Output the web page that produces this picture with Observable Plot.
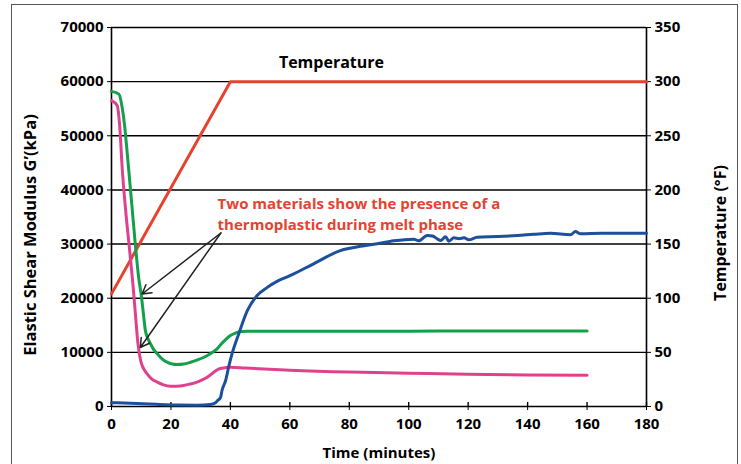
<!DOCTYPE html>
<html><head><meta charset="utf-8">
<script src="https://cdn.jsdelivr.net/npm/d3@7"></script>
<script src="https://cdn.jsdelivr.net/npm/@observablehq/plot@0.6"></script>
<style>
body{margin:0;background:#fff;}
#wrap{position:relative;width:741px;height:464px;overflow:hidden;background:#fff;}
#border{position:absolute;left:11px;top:4px;width:725px;height:480px;border:1px solid #555;pointer-events:none;}
</style></head><body><div id="wrap"><div id="border"></div></div>
<script>
// ---- data ----
const xTicks = [0, 20, 40, 60, 80, 100, 120, 140, 160, 180];
const gTicks = [0, 10000, 20000, 30000, 40000, 50000, 60000, 70000];
const tempTicks = [0, 50, 100, 150, 200, 250, 300, 350];

const tempTime = [0, 40, 180];
const tempF = [104, 300, 300];

const greenTime = [0,2.5,3.5,4.4,5.5,6.8,8.1,9.1,10.1,10.8,11.4,12.2,13.1,14.2,15.4,17,18.7,20.4,22.1,24.3,26.6,28.9,31.1,32.8,34.4,35.6,36.7,38.3,40,41.7,43.4,46,60,80,100,120,140,160];
const greenG = [58200,57700,55500,51900,45500,37500,29400,24000,20200,16800,14040,12600,11580,10500,9730,8800,8180,7850,7760,7850,8180,8600,9100,9600,10160,10700,11400,12300,13110,13550,13850,13900,13900,13900,13900,13950,13950,13950];

const pinkTime = [0,1.9,2.8,3.6,4.8,6,7.3,8.2,8.9,9.8,10.8,12,13.5,15.4,17.5,19.9,22,24.3,26.5,28.8,30.5,32.2,34.4,36,37.2,40,45,60,80,100,120,140,160];
const pinkG = [56500,55600,51500,44000,36000,29400,22000,16000,11600,8500,7000,6040,5100,4500,4000,3750,3750,3880,4150,4500,4900,5400,6340,6900,7080,7260,7100,6700,6350,6150,5950,5800,5750];

const blueTime = [0,6.4,15,22,28.8,33.3,35,35.7,36.7,37.2,38.4,39.5,40.6,42.8,45.7,49,52.4,56,60.2,68,77,83,89.4,95,101.7,103.4,106.2,108,109.6,110.7,112.4,113.5,115.2,117,118.6,120.2,123,130,136.5,142,147.7,154.4,156.1,157.8,165,180];
const blueG = [700,600,400,280,250,380,700,1100,1700,3000,4800,7500,9800,13400,17700,20500,22000,23200,24200,26350,28800,29500,30050,30600,30900,30600,31600,31500,30970,30660,31350,30530,31150,31000,31150,30780,31270,31400,31580,31800,32000,31700,32300,31900,32000,32000];

const yTitle = "Elastic Shear Modulus G’(kPa)";
const y2Title = "Temperature (°F)";
const xTitle = "Time (minutes)";
const labels = [{x: 74, y: 63500, text: "Temperature"}];
const noteText = ["Two materials show the presence of a\nthermoplastic during melt phase"];
const noteX = [35.7];
const noteY = [35740];
const arrows = [
  {x1: 36.8, y1: 32050, x2: 10.3, y2: 20780},
  {x1: 36.8, y1: 32050, x2: 9.7, y2: 10900}
];

// ---- build ----
const rows = (t, v) => t.map((x, i) => ({x, y: v[i]}));
const temp = rows(tempTime, tempF);
const green = rows(greenTime, greenG);
const pink = rows(pinkTime, pinkG);
const blue = rows(blueTime, blueG);
const notes = noteText.map((text, i) => ({text, x: noteX[i], y: noteY[i]}));

const chart = Plot.plot({
  width: 741,
  height: 464,
  marginLeft: 111,
  marginRight: 95,
  marginTop: 27,
  marginBottom: 58,
  style: {fontFamily: "'Open Sans', sans-serif", fontSize: "15px", fontWeight: "bold", color: "#000", background: "transparent", overflow: "visible"},
  x: {domain: [0, 180]},
  y: {domain: [0, 70000]},
  marks: [
    Plot.ruleY(gTicks.filter(d => d > 0), {stroke: "#000", strokeWidth: 1.4}),
    Plot.axisY(gTicks, {anchor: "left", tickSize: 4, tickPadding: 4, tickFormat: d => String(d), label: null}),
    Plot.axisY(tempTicks, {anchor: "right", y: d => d * 200, tickSize: 4, tickPadding: 4, tickFormat: d => String(d), label: null}),
    Plot.axisX(xTicks, {tickSize: 4, tickPadding: 8, tickFormat: d => String(d), label: null}),
    Plot.ruleX(xTicks, {y1: 0, y2: 750, stroke: "#000", strokeWidth: 1.4}),
    Plot.ruleX([0, 180], {stroke: "#000", strokeWidth: 1.6}),
    Plot.ruleY([0], {stroke: "#000", strokeWidth: 1.6}),
    Plot.text([yTitle], {frameAnchor: "left", textAnchor: "middle", lineAnchor: "middle", rotate: -90, dx: -81, dy: 18, fontSize: 16.5, fontWeight: "bold", fill: "#000"}),
    Plot.text([y2Title], {frameAnchor: "right", textAnchor: "middle", lineAnchor: "middle", rotate: -90, dx: 74, dy: 16, fontSize: 16, fontWeight: "bold", fill: "#000"}),
    Plot.text([xTitle], {frameAnchor: "bottom", textAnchor: "middle", lineAnchor: "middle", dy: 47, fontSize: 15, fontWeight: "bold", fill: "#000"}),
    Plot.line(temp, {x: "x", y: d => d.y * 200, stroke: "#e5432f", strokeWidth: 3}),
    Plot.line(pink, {x: "x", y: "y", stroke: "#e0418c", strokeWidth: 3, curve: "monotone-x"}),
    Plot.line(green, {x: "x", y: "y", stroke: "#12a04a", strokeWidth: 3, curve: "monotone-x"}),
    Plot.line(blue, {x: "x", y: "y", stroke: "#1c4f9c", strokeWidth: 3, curve: "monotone-x"}),
    Plot.arrow(arrows, {x1: "x1", y1: "y1", x2: "x2", y2: "y2", stroke: "#222", strokeWidth: 1.5, headLength: 10}),
    Plot.text(labels, {x: "x", y: "y", text: "text", fontSize: 16, fontWeight: "bold", fill: "#000"}),
    Plot.text(notes, {x: "x", y: "y", text: "text", textAnchor: "start", fontSize: 15, lineHeight: 1.4, fontWeight: "bold", fill: "#e5432f"})
  ]
});
document.getElementById("wrap").appendChild(chart);
</script>
</body></html>
